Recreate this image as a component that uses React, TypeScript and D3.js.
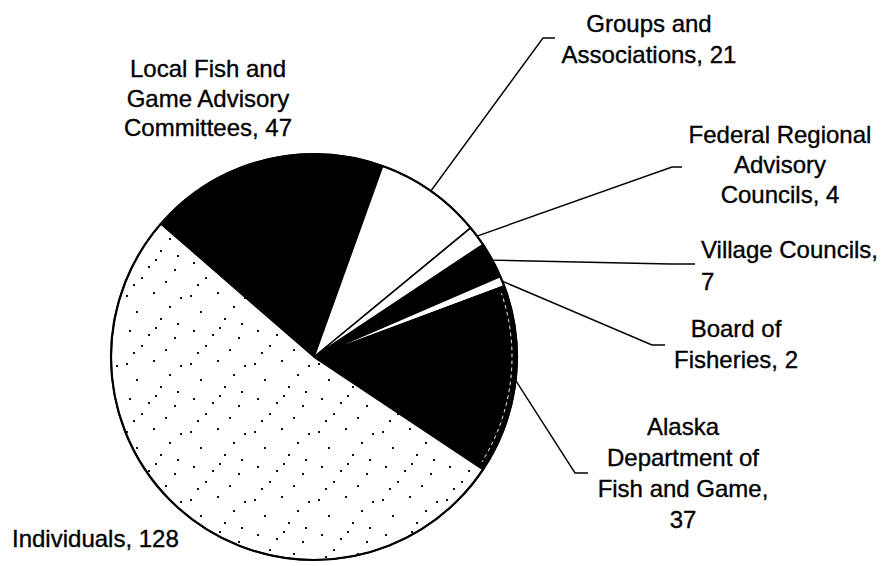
import React, { useRef, useEffect } from 'react';
import * as d3 from 'd3';

// data (clockwise from the upper left)
const categories = [
  'Local Fish and Game Advisory Committees',
  'Groups and Associations',
  'Federal Regional Advisory Councils',
  'Village Councils',
  'Board of Fisheries',
  'Alaska Department of Fish and Game',
  'Individuals',
];
const values = [47, 21, 4, 7, 2, 37, 128];
const labelLines = [
  ['Local Fish and', 'Game Advisory', 'Committees, 47'],
  ['Groups and', 'Associations, 21'],
  ['Federal Regional', 'Advisory', 'Councils, 4'],
  ['Village Councils,', '7'],
  ['Board of', 'Fisheries, 2'],
  ['Alaska', 'Department of', 'Fish and Game,', '37'],
  ['Individuals, 128'],
];

// layout / styles
const W = 893;
const H = 566;
const cx = 314;
const cy = 357;
const R = 203;
const startDeg = -49;
const fills = ['#000', '#fff', '#fff', '#000', '#fff', '#000', 'url(#stipple)'];
const labelPos: Record<string, { x: number; y: number; anchor: string; lh: number }> = {
  'Local Fish and Game Advisory Committees': { x: 208, y: 77, anchor: 'middle', lh: 29.5 },
  'Groups and Associations': { x: 649, y: 32, anchor: 'middle', lh: 31 },
  'Federal Regional Advisory Councils': { x: 780, y: 143, anchor: 'middle', lh: 30 },
  'Village Councils': { x: 701, y: 258, anchor: 'start', lh: 32 },
  'Board of Fisheries': { x: 736, y: 337, anchor: 'middle', lh: 31 },
  'Alaska Department of Fish and Game': { x: 683, y: 435, anchor: 'middle', lh: 31 },
  'Individuals': { x: 12, y: 547, anchor: 'start', lh: 30 },
};
// elbow + end of each leader line
const leaderPos: Record<string, [number, number][]> = {
  'Groups and Associations': [[543, 38], [555, 38]],
  'Federal Regional Advisory Councils': [[672, 167], [682, 167]],
  'Village Councils': [[670, 264], [695, 264]],
  'Board of Fisheries': [[652, 345], [665, 345]],
  'Alaska Department of Fish and Game': [[575, 473], [588, 473]],
};

// fixed stipple dots for the Individuals slice pattern
const dots: [number, number][] = [
  [4, 6], [31, 3], [47, 17], [14, 22], [38, 29], [7, 41], [26, 45], [52, 48], [19, 56], [43, 60],
  [58, 8], [33, 38], [11, 63], [55, 34],
];

const App = () => {
  const svgRef = useRef<SVGSVGElement>(null);

  useEffect(() => {
    const svg = d3.select(svgRef.current);
    svg.selectAll('*').remove();

    const defs = svg.append('defs');
    const pat = defs.append('pattern')
      .attr('id', 'stipple')
      .attr('patternUnits', 'userSpaceOnUse')
      .attr('width', 64)
      .attr('height', 68);
    pat.append('rect').attr('width', 64).attr('height', 68).attr('fill', '#fff');
    pat.selectAll('rect.dot')
      .data(dots)
      .enter()
      .append('rect')
      .attr('class', 'dot')
      .attr('x', d => d[0])
      .attr('y', d => d[1])
      .attr('width', 2)
      .attr('height', 2)
      .attr('fill', '#111');

    const data = categories.map((c, i) => ({ name: c, value: values[i], lines: labelLines[i], fill: fills[i] }));

    const a0 = (startDeg * Math.PI) / 180;
    const pie = d3.pie<any>()
      .sort(null)
      .value(d => d.value)
      .startAngle(a0)
      .endAngle(a0 + 2 * Math.PI);
    const arcs = pie(data);

    const arc = d3.arc<any>().innerRadius(0).outerRadius(R);

    const g = svg.append('g').attr('transform', `translate(${cx},${cy})`);

    g.selectAll('path.slice')
      .data(arcs)
      .enter()
      .append('path')
      .attr('class', 'slice')
      .attr('d', arc)
      .attr('fill', d => d.data.fill)
      .attr('stroke', '#000')
      .attr('stroke-width', 1.6)
      .attr('stroke-linejoin', 'round');

    // faint speckled band along the rim of the Alaska slice
    const ak = arcs[5];
    g.append('path')
      .attr('d', d3.arc<any>().innerRadius(R - 5).outerRadius(R - 5)({ startAngle: ak.startAngle + 0.03, endAngle: ak.endAngle - 0.03 }))
      .attr('fill', 'none')
      .attr('stroke', '#fff')
      .attr('stroke-width', 1)
      .attr('stroke-dasharray', '2 5');

    g.append('circle')
      .attr('r', R)
      .attr('fill', 'none')
      .attr('stroke', '#000')
      .attr('stroke-width', 2.2);

    // leader lines from the rim at each slice's middle angle
    arcs.forEach(d => {
      const pts = leaderPos[d.data.name];
      if (!pts) return;
      const m = (d.startAngle + d.endAngle) / 2;
      const p0: [number, number] = [cx + R * Math.sin(m), cy - R * Math.cos(m)];
      svg.append('path')
        .attr('d', d3.line()([p0, ...pts]))
        .attr('fill', 'none')
        .attr('stroke', '#000')
        .attr('stroke-width', 1.4);
    });

    // labels
    data.forEach(d => {
      const p = labelPos[d.name];
      const t = svg.append('text')
        .attr('x', p.x)
        .attr('y', p.y)
        .attr('text-anchor', p.anchor)
        .style('font-family', '"Liberation Sans", Arial, sans-serif')
        .style('font-size', '24px')
        .style('fill', '#000')
        .style('stroke', '#000')
        .style('stroke-width', 0.35);
      d.lines.forEach((ln, i) => {
        t.append('tspan')
          .attr('x', p.x)
          .attr('y', p.y + i * p.lh)
          .text(ln);
      });
    });
  }, []);

  return (
    <div style={{ position: 'absolute', left: 0, top: 0, width: W, height: H, background: '#fff' }}>
      <svg ref={svgRef} width={W} height={H}></svg>
    </div>
  );
};

export default App;
